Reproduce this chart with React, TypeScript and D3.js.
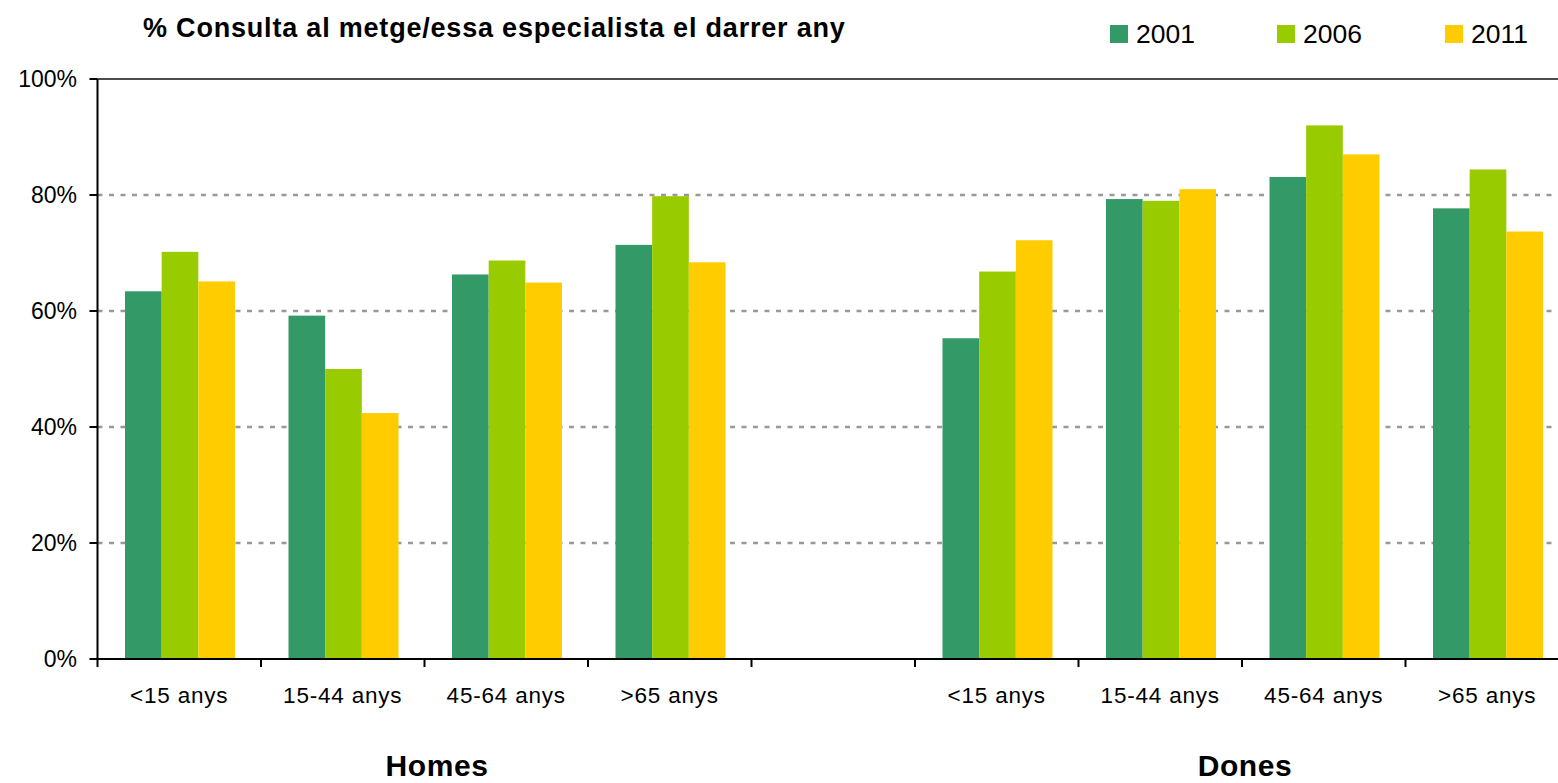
import React from "react";
import * as d3 from "d3";

const groups = ["Homes", "Dones"];
const ageGroups = ["<15 anys", "15-44 anys", "45-64 anys", ">65 anys"];
const years = ["2001", "2006", "2011"];
const colors = ["#339966", "#99CC00", "#FFCC00"];
const homes2001 = [63.4, 59.2, 66.3, 71.4];
const homes2006 = [70.2, 50.0, 68.7, 79.8];
const homes2011 = [65.1, 42.4, 64.9, 68.4];
const dones2001 = [55.3, 79.3, 83.1, 77.7];
const dones2006 = [66.8, 79.0, 92.0, 84.4];
const dones2011 = [72.2, 81.0, 87.0, 73.7];
const yTicks = [0, 20, 40, 60, 80, 100];
const title = "% Consulta al metge/essa especialista el darrer any";

const W = 1558;
const H = 783;

export default function App() {
  const slots = [
    ...ageGroups.map((a, i) => ({ key: "H" + i, label: a, vals: [homes2001[i], homes2006[i], homes2011[i]] })),
    { key: "gap", label: "", vals: [] as number[] },
    ...ageGroups.map((a, i) => ({ key: "D" + i, label: a, vals: [dones2001[i], dones2006[i], dones2011[i]] })),
  ];
  const x = d3.scaleBand<string>().domain(slots.map((s) => s.key)).range([97.5, 97.5 + 163.5 * 9]).paddingInner(0).paddingOuter(0);
  const y = d3.scaleLinear().domain([0, 100]).range([659, 79]);
  const inner = d3.scaleBand<string>().domain(years).range([27.5, 27.5 + 110]);
  const x0 = 97.5;
  const font = "'Liberation Sans', Arial, sans-serif";

  return (
    <svg width={W} height={H} style={{ position: "absolute", left: 0, top: 0, background: "#fff" }} fontFamily={font}>
      {yTicks.filter((t) => t > 0 && t < 100).map((t) => (
        <line key={t} x1={x0} x2={W} y1={y(t)} y2={y(t)} stroke="#999" strokeWidth={2.5} strokeDasharray="5 6.5" />
      ))}
      <line x1={x0} x2={W} y1={y(100)} y2={y(100)} stroke="#111" strokeWidth={1.5} />
      {slots.map((s) =>
        s.vals.map((v, j) => (
          <rect key={s.key + j} x={(x(s.key) as number) + (inner(years[j]) as number)} width={inner.bandwidth()} y={y(v)} height={y(0) - y(v)} fill={colors[j]} />
        ))
      )}
      <line x1={x0} x2={x0} y1={y(100)} y2={y(0) + 8} stroke="#000" strokeWidth={2} />
      {yTicks.map((t) => (
        <g key={t}>
          <line x1={x0 - 8} x2={x0} y1={y(t)} y2={y(t)} stroke="#000" strokeWidth={2} />
          <text x={77} y={y(t) + 8} textAnchor="end" fontSize={23} fill="#000">{t + "%"}</text>
        </g>
      ))}
      <line x1={x0} x2={W} y1={y(0)} y2={y(0)} stroke="#000" strokeWidth={2} />
      {slots.map((s) => (
        <g key={s.key}>
          <line x1={(x(s.key) as number) + x.bandwidth()} x2={(x(s.key) as number) + x.bandwidth()} y1={y(0)} y2={y(0) + 8} stroke="#000" strokeWidth={2} />
          {s.label && (
            <text x={(x(s.key) as number) + x.bandwidth() / 2} y={703} textAnchor="middle" fontSize={22.5} letterSpacing={0.8} fill="#000">{s.label}</text>
          )}
        </g>
      ))}
      <text x={437} y={776} textAnchor="middle" fontSize={30} letterSpacing={0.6} fontWeight="bold">{groups[0]}</text>
      <text x={1245} y={776} textAnchor="middle" fontSize={30} letterSpacing={0.6} fontWeight="bold">{groups[1]}</text>
      <text x={143} y={37} fontSize={27} letterSpacing={0.8} fontWeight="bold">{title}</text>
      {years.map((yr, i) => {
        const lx = [1110, 1277, 1445][i];
        return (
          <g key={yr}>
            <rect x={lx} y={25} width={18} height={18} fill={colors[i]} />
            <text x={lx + 26} y={43} fontSize={26.5}>{yr}</text>
          </g>
        );
      })}
    </svg>
  );
}
